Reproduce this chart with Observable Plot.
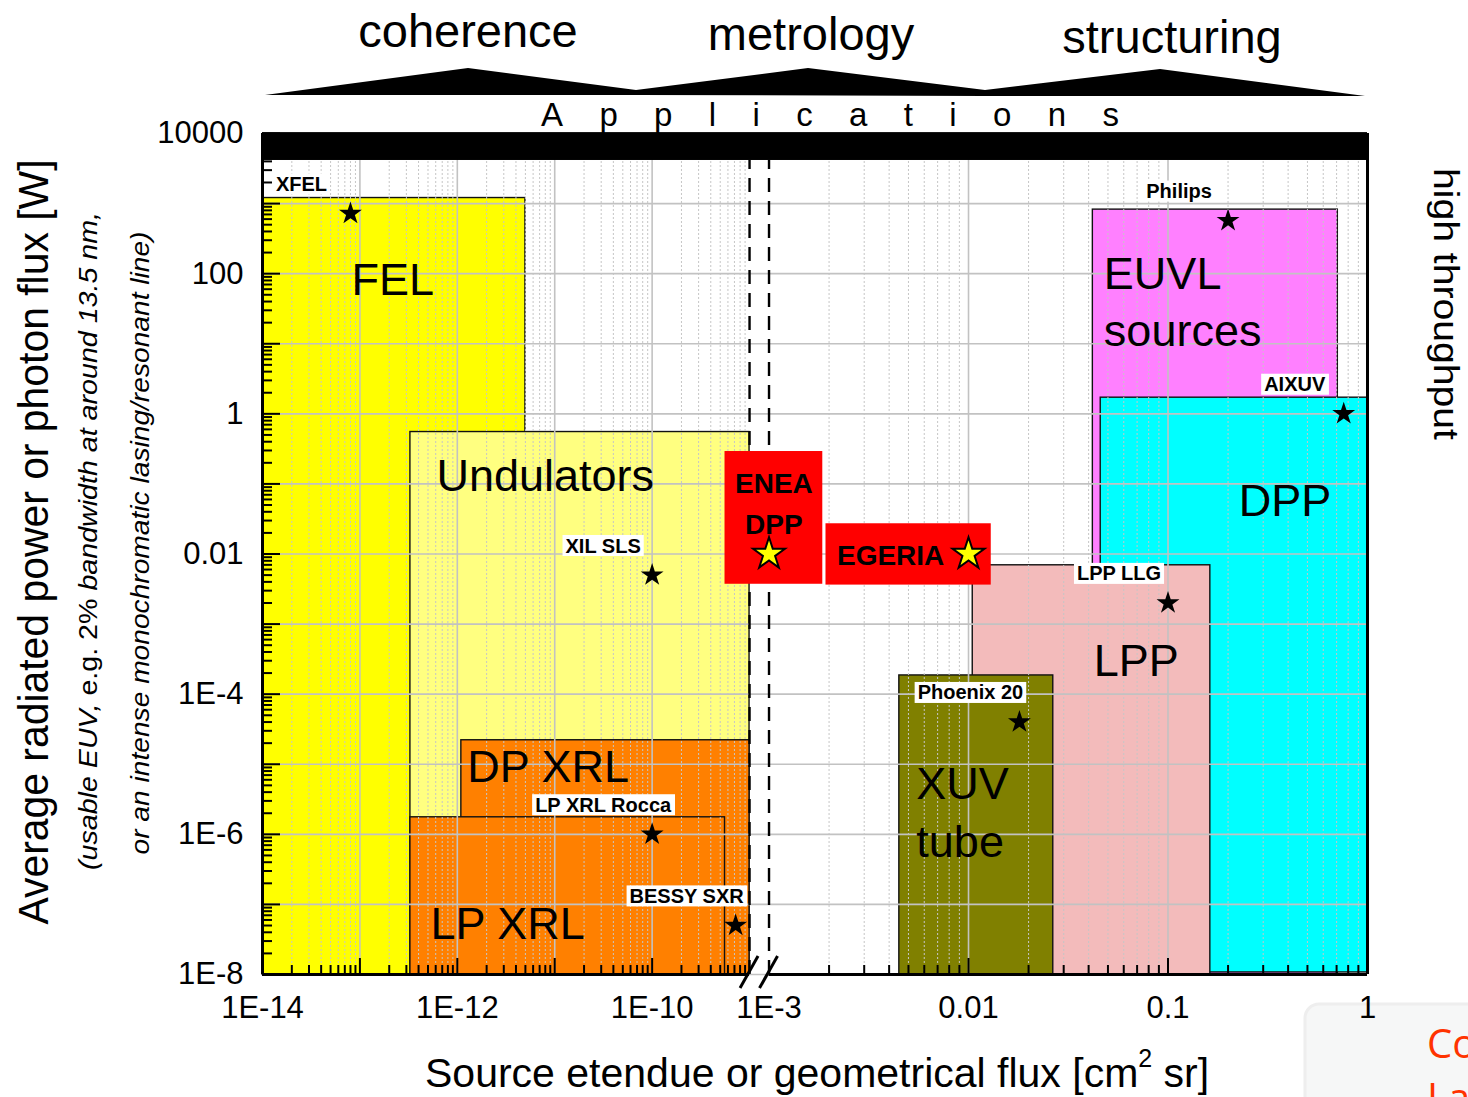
<!DOCTYPE html>
<html><head><meta charset="utf-8">
<script src="https://cdn.jsdelivr.net/npm/d3@7"></script>
<script src="https://cdn.jsdelivr.net/npm/@observablehq/plot@0.6"></script>
<style>
html,body{margin:0;padding:0;background:#fff;}
#chart{position:relative;width:1468px;height:1097px;overflow:hidden;}
#chart svg{position:absolute;left:0;top:0;}
</style></head><body><div id="chart"></div>
<script>
// ---------- data ----------
const sourceNames = ["FEL", "Undulators", "DP XRL", "LP XRL", "EUVL\nsources", "DPP", "LPP", "XUV\ntube"];
const sourceEtendueMin = [1e-14, 3.3e-13, 1.1e-12, 3.3e-13, 0.042, 0.046, 0.0105, 0.0045];
const sourceEtendueMax = [5e-12, 1e-9, 1e-9, 5.6e-10, 0.71, 1, 0.163, 0.0266];
const sourcePowerMin = [1e-8, 1e-8, 1e-8, 1e-8, 1e-8, 1.07e-8, 1e-8, 1e-8];
const sourcePowerMax = [1200, 0.55, 2.2e-5, 1.75e-6, 820, 1.7, 0.0069, 1.85e-4];

const highlightNames = ["ENEA\nDPP", "EGERIA"];
const highlightEtendueMin = [5.6e-10, 1.93e-3];
const highlightEtendueMax = [1.86e-3, 0.013];
const highlightPowerMin = [0.0037, 0.0036];
const highlightPowerMax = [0.29, 0.027];
const highlightStarEtendue = [1e-3, 0.01];
const highlightStarPower = [0.01, 0.01];

const facilityNames = ["XFEL", "XIL SLS", "LP XRL Rocca", "BESSY SXR", "Philips", "AIXUV", "LPP LLG", "Phoenix 20"];
const facilityEtendue = [8e-14, 1e-10, 1e-10, 7.2e-10, 0.2, 0.76, 0.1, 0.018];
const facilityPower = [720, 0.005, 1e-6, 5e-8, 570, 1, 0.002, 4e-5];

const xTickValues = [1e-14, 1e-12, 1e-10, 1e-3, 0.01, 0.1, 1];
const xTickLabels = ["1E-14", "1E-12", "1E-10", "1E-3", "0.01", "0.1", "1"];
const yTickValues = [1e-8, 1e-6, 1e-4, 0.01, 1, 100, 10000];
const yTickLabels = ["1E-8", "1E-6", "1E-4", "0.01", "1", "100", "10000"];

const applications = ["coherence", "metrology", "structuring"];

// ---------- styles ----------
const sourceColors = ["#FFFF00", "#FFFF80", "#FF8000", "#FF8000", "#FF80FF", "#00FFFF", "#F3BBBB", "#808000"];
// label offsets (px) from each box's top-left corner to the label's left/middle
const sourceLabelOffsets = [[89, 79], [26, 41], [6, 23], [20, 103], [11, 89.5], [138, 100], [121, 92], [17, 134]];
const FONT = "Arial, 'Liberation Sans', Helvetica, sans-serif";

// broken x axis: 1E-14..1E-9 | 1E-3..1
function brk(v) {
  const l = Math.log10(v);
  return v < 1e-6 ? l + 14 : 5.2 + (l + 3) * 2.048;
}

(function () {
const boxes = sourceNames.map((name, i) => ({name, x1: sourceEtendueMin[i], x2: sourceEtendueMax[i], y1: sourcePowerMin[i], y2: sourcePowerMax[i], color: sourceColors[i]}));
const hboxes = highlightNames.map((name, i) => ({name, x1: highlightEtendueMin[i], x2: highlightEtendueMax[i], y1: highlightPowerMin[i], y2: highlightPowerMax[i]}));
const hstars = highlightStarEtendue.map((x, i) => ({x, y: highlightStarPower[i]}));
const facilities = facilityNames.map((name, i) => ({name, x: facilityEtendue[i], y: facilityPower[i]}));

const decades = (a, b) => d3.range(a, b + 1).map(k => Math.pow(10, k));
const minors = (a, b) => d3.range(a, b + 1).flatMap(k => d3.range(2, 10).map(m => m * Math.pow(10, k)));
const yMajor = decades(-8, 4);
const yMinor = minors(-8, 3);
const xMajorTicks = [...decades(-14, -10), 0.01, 0.1];
const xMinor = [...minors(-14, -10), ...minors(-3, -1)];
const xMajorGrid = [...decades(-14, -10), 0.01, 0.1];
const barBottom = Math.pow(10, 3.615);
const xMax = brk(1);

const plot = Plot.plot({
  width: 1468, height: 1097,
  marginLeft: 262, marginRight: 101, marginTop: 133, marginBottom: 123,
  x: {type: "linear", domain: [0, xMax]},
  y: {type: "log", domain: [1e-8, 1e4]},
  color: {type: "identity"},
  style: {fontFamily: FONT, background: "transparent", overflow: "visible"},
  marks: [
    Plot.rect(boxes, {x1: d => brk(d.x1), x2: d => brk(d.x2), y1: "y1", y2: "y2", fill: "color", stroke: "#111", strokeWidth: 1.4}),
    Plot.ruleX(xMinor, {x: d => brk(d), stroke: "#c6c6c6", strokeWidth: 1, strokeDasharray: "2,2"}),
    Plot.ruleX(xMajorGrid, {x: d => brk(d), stroke: "#c2c2c2", strokeWidth: 1.6}),
    Plot.ruleY(yMajor, {y: d => d, stroke: "#c2c2c2", strokeWidth: 1.6}),
    Plot.rect([0], {x1: () => 0, x2: () => xMax, y1: () => barBottom, y2: () => 1.03e4, fill: "black"}),
    Plot.ruleX([1e-9, 1e-3], {x: d => brk(d), y1: () => 1e-8, y2: () => barBottom, stroke: "black", strokeWidth: 2.4, strokeDasharray: "14,9"}),
    Plot.rect(hboxes, {x1: d => brk(d.x1), x2: d => brk(d.x2), y1: "y1", y2: "y2", fill: "#FF0000"}),
    Plot.text(hboxes.slice(0, 1), {x: d => (brk(d.x1) + brk(d.x2)) / 2, y: "y2", text: "name", dy: 48.5, lineHeight: 1.46, lineAnchor: "middle", fontSize: 28, fontWeight: "bold", fill: "black"}),
    Plot.text(hboxes.slice(1), {x: d => brk(d.x1), y: "y2", text: "name", dx: 11, dy: 32, textAnchor: "start", lineAnchor: "middle", fontSize: 28, fontWeight: "bold", fill: "black"}),
    Plot.ruleY([1e-8], {y: d => d, x1: () => 0, x2: () => brk(1e-9), stroke: "black", strokeWidth: 3}),
    Plot.ruleY([1e-8], {y: d => d, x1: () => brk(1e-3), x2: () => xMax, stroke: "black", strokeWidth: 3}),
    Plot.ruleX([1e-14, 1], {x: d => brk(d), y1: () => 1e-8, y2: () => 1e4, stroke: "black", strokeWidth: 3}),
    Plot.axisX({ticks: xMajorTicks.map(brk), tickSize: -16, tickFormat: () => "", strokeWidth: 2, label: null}),
    Plot.axisX({ticks: xMinor.map(brk), tickSize: -9, tickFormat: () => "", strokeWidth: 2, label: null}),
    Plot.axisY({ticks: yMajor, tickSize: -18, tickFormat: () => "", strokeWidth: 2, label: null}),
    Plot.axisY({ticks: yMinor, tickSize: -10, tickFormat: () => "", strokeWidth: 2, label: null}),
    Plot.text(xTickValues, {x: d => brk(d), text: (d, i) => xTickLabels[i], frameAnchor: "bottom", dy: 34, lineAnchor: "middle", fontSize: 31, fill: "black"}),
    Plot.text(yTickValues, {y: d => d, text: (d, i) => yTickLabels[i], frameAnchor: "left", dx: -19, textAnchor: "end", lineAnchor: "middle", fontSize: 31, fill: "black"}),
    Plot.dot(facilities, {x: d => brk(d.x), y: "y", symbol: "star", r: 7.2, fill: "black", stroke: null}),
    Plot.text(facilities, {x: d => brk(d.x), y: "y", text: "name", dx: -49, dy: -29, lineAnchor: "middle", fontSize: 20, fontWeight: "bold", fill: "black"}),
    Plot.dot(hstars, {x: d => brk(d.x), y: "y", symbol: "star", r: 10, fill: "#FFFF00", stroke: "black", strokeWidth: 2}),
    ...boxes.map((b, i) => Plot.text([b], {x: d => brk(d.x1), y: "y2", text: "name", dx: sourceLabelOffsets[i][0], dy: sourceLabelOffsets[i][1], textAnchor: "start", lineAnchor: "middle", lineHeight: 1.28, fontSize: 45, fill: "black"}))
  ]
});

document.getElementById("chart").appendChild(plot);
const svg = d3.select(plot);
const sx = plot.scale("x"), sy = plot.scale("y");

// white backgrounds behind the facility labels
svg.selectAll("text").filter(function () { return facilityNames.includes(this.textContent); }).each(function () {
  const b = this.getBBox();
  d3.select(this.parentNode).insert("rect", () => this)
    .attr("transform", this.getAttribute("transform"))
    .attr("x", b.x - 3).attr("y", b.y + 0.5).attr("width", b.width + 6).attr("height", b.height - 1)
    .attr("fill", "white");
});

// axis break slashes
[1e-9, 1e-3].forEach(v => {
  const cx = sx.apply(brk(v)), cy = sy.apply(1e-8) - 2;
  svg.append("line").attr("x1", cx - 9).attr("y1", cy + 16).attr("x2", cx + 9).attr("y2", cy - 16)
    .attr("stroke", "black").attr("stroke-width", 3);
});

// applications header
const hdr = svg.append("g").attr("font-family", FONT).attr("fill", "black");
hdr.append("path")
  .attr("d", "M265,95 L468,68 L636,90 L808,68 L985,90 L1160,69 L1365,96 L985,96 L636,95 Z")
  .attr("fill", "black");
const headX = [468, 811, 1172], headY = [47, 50, 53];
applications.forEach((a, i) => hdr.append("text").attr("x", headX[i]).attr("y", headY[i]).attr("text-anchor", "middle").attr("font-size", 47).text(a));
hdr.append("text").attr("x", 541).attr("y", 126).attr("font-size", 33).attr("text-anchor", "start")
  .attr("textLength", 578).attr("lengthAdjust", "spacing").text("Applications");

// axis titles
const ya = svg.append("g").attr("font-family", FONT).attr("fill", "black");
ya.append("text").attr("transform", "translate(48,542) rotate(-90)").attr("text-anchor", "middle")
  .attr("font-size", 42).attr("textLength", 765).attr("lengthAdjust", "spacingAndGlyphs")
  .text("Average radiated power or photon flux [W]");
const l2 = ya.append("text").attr("transform", "translate(97,541) rotate(-90)").attr("text-anchor", "middle")
  .attr("font-size", 25).attr("textLength", 658).attr("lengthAdjust", "spacingAndGlyphs");
l2.append("tspan").attr("font-style", "italic").text("(usable EUV, ");
l2.append("tspan").text("e.g. 2% ");
l2.append("tspan").attr("font-style", "italic").text("bandwidth at around 13.5 nm,");
ya.append("text").attr("transform", "translate(149,543) rotate(-90)").attr("text-anchor", "middle")
  .attr("font-size", 25).attr("font-style", "italic").attr("textLength", 623).attr("lengthAdjust", "spacingAndGlyphs")
  .text("or an intense monochromatic lasing/resonant line)");
ya.append("text").attr("transform", "translate(1434,168) rotate(90)").attr("text-anchor", "start")
  .attr("font-size", 35).attr("textLength", 272).attr("lengthAdjust", "spacingAndGlyphs")
  .text("high throughput");
const xt = ya.append("text").attr("x", 425).attr("y", 1087).attr("font-size", 41).attr("text-anchor", "start");
xt.append("tspan").text("Source etendue or geometrical flux [cm");
xt.append("tspan").attr("font-size", 25).attr("dy", -20).text("2");
xt.append("tspan").attr("dy", 20).text(" sr]");

// stray overlay panel in the corner of the source slide
const ov = svg.insert("g", ":first-child");
ov.append("rect").attr("x", 1305).attr("y", 1004).attr("width", 220).attr("height", 140).attr("rx", 14)
  .attr("fill", "#F6F7F7").attr("stroke", "#EEEEEE").attr("stroke-width", 3);
ov.append("text").attr("x", 1427).attr("y", 1058).attr("text-anchor", "start").attr("font-family", "'Open Sans', sans-serif").attr("font-size", 40).attr("fill", "#FF3300").text("Co");
ov.append("text").attr("x", 1427).attr("y", 1112).attr("text-anchor", "start").attr("font-family", "'Open Sans', sans-serif").attr("font-size", 40).attr("fill", "#FF3300").text("La");
})();
</script></body></html>
